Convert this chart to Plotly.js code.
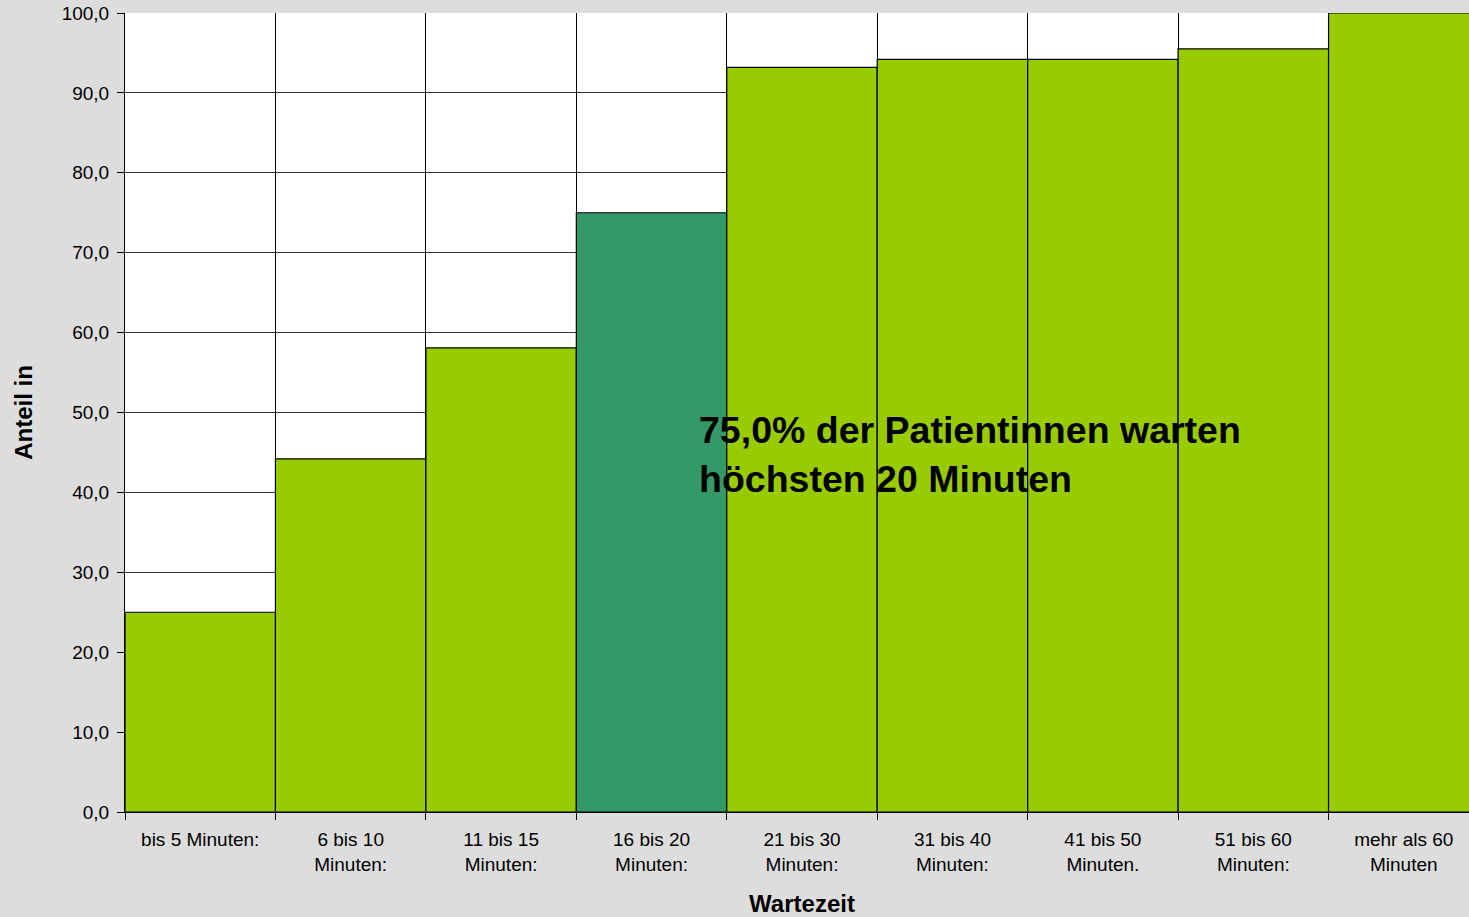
<!DOCTYPE html>
<html>
<head>
<meta charset="utf-8">
<script src="https://cdn.plot.ly/plotly-3.0.1.min.js"></script>
<style>
html,body{margin:0;padding:0;overflow:hidden;background:#dddddd;}
#chart{width:1479px;height:917px;}
</style>
</head>
<body>
<div id="chart"></div>
<script>
const categories = [
  "bis 5 Minuten:",
  "6 bis 10<br>Minuten:",
  "11 bis 15<br>Minuten:",
  "16 bis 20<br>Minuten:",
  "21 bis 30<br>Minuten:",
  "31 bis 40<br>Minuten:",
  "41 bis 50<br>Minuten.",
  "51 bis 60<br>Minuten:",
  "mehr als 60<br>Minuten"
];
const values = [25.0, 44.2, 58.1, 75.0, 93.2, 94.2, 94.2, 95.5, 100.0];
const highlightIndex = 3;
const annotationText = "75,0% der Patientinnen warten<br>höchsten 20 Minuten";

const colors = values.map((v, i) => i === highlightIndex ? "#339966" : "#99cc00");

const trace = {
  type: "bar",
  x: categories,
  y: values,
  marker: {color: colors, line: {color: "#000000", width: 1.2}},
  hoverinfo: "x+y"
};

const FONT = "Liberation Sans, Arial, sans-serif";

const layout = {
  width: 1479,
  height: 917,
  paper_bgcolor: "#dddddd",
  plot_bgcolor: "#ffffff",
  margin: {l: 125, r: 0, t: 13, b: 105},
  bargap: 0,
  showlegend: false,
  separators: ",.",
  font: {family: FONT, color: "#000000", size: 19},
  xaxis: {
    type: "category",
    tickson: "boundaries",
    ticks: "outside",
    ticklen: 7,
    tickcolor: "#000000",
    showgrid: true,
    gridcolor: "#000000",
    gridwidth: 1,
    showline: true,
    linecolor: "#000000",
    linewidth: 1,
    ticklabelstandoff: 10,
    tickfont: {size: 19, color: "#000000", family: FONT},
    title: {text: "Wartezeit", font: {size: 24, color: "#000000", family: FONT, weight: "bold"}, standoff: 23}
  },
  yaxis: {
    range: [0, 100],
    dtick: 10,
    tick0: 0,
    tickformat: ".1f",
    ticks: "outside",
    ticklen: 7,
    tickcolor: "#000000",
    showgrid: true,
    gridcolor: "#333333",
    gridwidth: 1,
    showline: true,
    linecolor: "#000000",
    linewidth: 1,
    zeroline: false,
    ticklabelstandoff: 4,
    tickfont: {size: 19, color: "#000000", family: FONT},
    title: {text: "Anteil in", font: {size: 24, color: "#000000", family: FONT, weight: "bold"}, standoff: 22}
  },
  annotations: [{
    text: "<b>" + annotationText + "</b>",
    x: 3.30,
    y: 44.7,
    xref: "x",
    yref: "y",
    xanchor: "left",
    yanchor: "middle",
    align: "left",
    showarrow: false,
    font: {size: 37.5, color: "#000000", family: FONT}
  }]
};

Plotly.newPlot("chart", [trace], layout, {displayModeBar: false, staticPlot: true});
</script>
</body>
</html>
